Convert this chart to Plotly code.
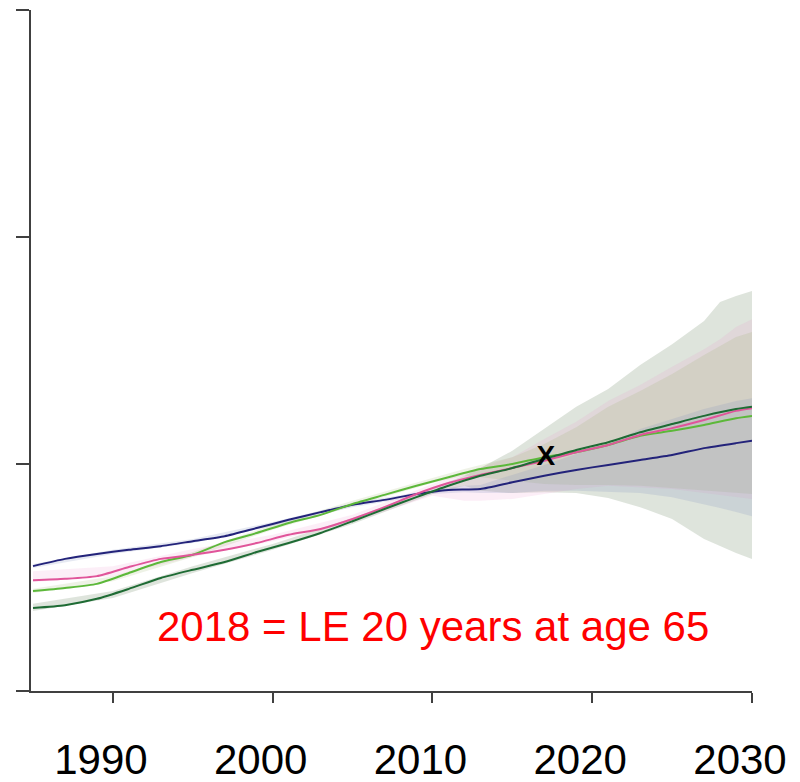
import plotly.graph_objects as go

# ---- data (life expectancy at age 65, years) ----
years = [1985, 1987, 1989, 1991, 1993, 1995, 1997, 1999, 2001, 2003, 2005, 2007,
         2009, 2011, 2013, 2015, 2017, 2019, 2021, 2023, 2025, 2027, 2029, 2030]

navy = [17.75, 17.91, 18.02, 18.11, 18.19, 18.30, 18.41, 18.59, 18.77, 18.94, 19.10, 19.21,
        19.34, 19.43, 19.45, 19.60, 19.74, 19.87, 19.98, 20.09, 20.20, 20.35, 20.46, 20.51]
pink = [17.44, 17.47, 17.53, 17.73, 17.91, 18.00, 18.11, 18.26, 18.44, 18.57, 18.79, 19.05,
        19.34, 19.58, 19.76, 19.91, 20.07, 20.26, 20.42, 20.64, 20.79, 20.97, 21.17, 21.23]
light_green = [17.20, 17.27, 17.36, 17.60, 17.84, 18.00, 18.28, 18.48, 18.70, 18.88, 19.12, 19.32,
               19.52, 19.71, 19.89, 20.00, 20.15, 20.26, 20.42, 20.62, 20.73, 20.86, 21.01, 21.06]
dark_green = [16.83, 16.89, 17.03, 17.25, 17.49, 17.67, 17.84, 18.06, 18.26, 18.48, 18.74, 19.01,
              19.27, 19.52, 19.74, 19.91, 20.11, 20.31, 20.48, 20.70, 20.88, 21.06, 21.21, 21.26]

band_years = [1985, 1990, 1995, 2000, 2005, 2010, 2012, 2013, 2015, 2017, 2019, 2021,
              2023, 2025, 2027, 2028, 2029, 2030]

dark_green_lo = [16.76, 17.05, 17.60, 18.11, 18.68, 19.34, 19.52, 19.41, 19.36, 19.38, 19.36, 19.25,
                 19.05, 18.79, 18.35, 18.19, 18.04, 17.91]
dark_green_hi = [16.92, 17.20, 17.75, 18.24, 18.81, 19.47, 19.74, 19.91, 20.29, 20.77, 21.26, 21.65,
                 22.18, 22.64, 23.15, 23.57, 23.70, 23.81]

pink_lo = [17.40, 17.53, 17.95, 18.30, 18.72, 19.30, 19.19, 19.19, 19.23, 19.34, 19.45, 19.52,
           19.49, 19.45, 19.36, 19.32, 19.27, 19.23]
pink_hi = [17.64, 17.75, 18.13, 18.44, 18.88, 19.56, 19.80, 19.93, 20.15, 20.55, 20.93, 21.39,
           21.74, 22.14, 22.53, 22.75, 23.02, 23.19]

light_green_lo = [17.16, 17.42, 17.95, 18.55, 19.07, 19.58, 19.74, 19.71, 19.63, 19.56, 19.54, 19.54,
                  19.52, 19.47, 19.41, 19.38, 19.36, 19.34]
light_green_hi = [17.25, 17.53, 18.06, 18.66, 19.19, 19.69, 19.89, 19.98, 20.15, 20.44, 20.81, 21.26,
                  21.61, 21.98, 22.40, 22.60, 22.80, 22.91]

navy_lo = [17.71, 18.02, 18.26, 18.63, 19.05, 19.34, 19.38, 19.36, 19.36, 19.41, 19.41, 19.38,
           19.36, 19.27, 19.12, 19.03, 18.94, 18.85]
navy_hi = [17.80, 18.11, 18.35, 18.72, 19.14, 19.43, 19.52, 19.54, 19.76, 19.98, 20.22, 20.44,
           20.77, 20.99, 21.21, 21.30, 21.39, 21.45]

mark_x = [2017.1]
mark_y = [20.13]
mark_text = ["<b>X</b>"]

x_ticks = [1990, 2000, 2010, 2020, 2030]
y_ticks = [15, 20, 25, 30]

note_text = "2018 = LE 20 years at age 65"
note_x = 2010.06
note_y = 16.41

FONT = "Liberation Sans"

fig = go.Figure()


def band(lo, hi, color):
    fig.add_trace(go.Scatter(
        x=band_years + band_years[::-1],
        y=lo + hi[::-1],
        fill="toself", fillcolor=color, mode="lines",
        line=dict(width=0), hoverinfo="skip", showlegend=False))


band(dark_green_lo, dark_green_hi, "rgba(90,120,80,0.2)")
band(pink_lo, pink_hi, "rgba(235,140,200,0.15)")
band(light_green_lo, light_green_hi, "rgba(139,169,87,0.15)")
band(navy_lo, navy_hi, "rgba(128,144,190,0.2)")

for vals, col in [(navy, "#23237a"), (light_green, "#5cb83a"),
                  (pink, "#e0559a"), (dark_green, "#1e6b34")]:
    fig.add_trace(go.Scatter(x=years, y=vals, mode="lines",
                             line=dict(color=col, width=2, shape="spline", smoothing=0.6),
                             showlegend=False))

fig.add_trace(go.Scatter(x=mark_x, y=mark_y, mode="text", text=mark_text,
                         textfont=dict(family=FONT, size=28, color="black"),
                         textposition="middle center", showlegend=False))

fig.add_annotation(x=note_x, y=note_y, xref="x", yref="y", text=note_text,
                   showarrow=False, xanchor="center", yanchor="middle",
                   font=dict(family=FONT, size=42, color="#ff0000"))

# the page body has an 8px margin, so the figure is sized to fit the window
fig.update_layout(
    width=792, height=774,
    margin=dict(l=23, r=48, t=2, b=91, autoexpand=False),
    paper_bgcolor="white", plot_bgcolor="white",
    showlegend=False,
    font=dict(family=FONT),
)
fig.update_xaxes(range=[1984.875, 2030], tickvals=x_ticks, showgrid=False, zeroline=False,
                 automargin=False,
                 showline=True, linecolor="#404040", linewidth=2,
                 ticks="outside", ticklen=10, tickwidth=2, tickcolor="#404040",
                 tickfont=dict(family=FONT, size=42, color="black"),
                 ticklabelshift=-12, ticklabelstandoff=21)
fig.update_yaxes(range=[15, 30], tickvals=y_ticks, showticklabels=False, showgrid=False,
                 automargin=False,
                 zeroline=False, showline=True, linecolor="#404040", linewidth=2,
                 ticks="outside", ticklen=13, tickwidth=2, tickcolor="#404040")

fig.write_html("out.html")
